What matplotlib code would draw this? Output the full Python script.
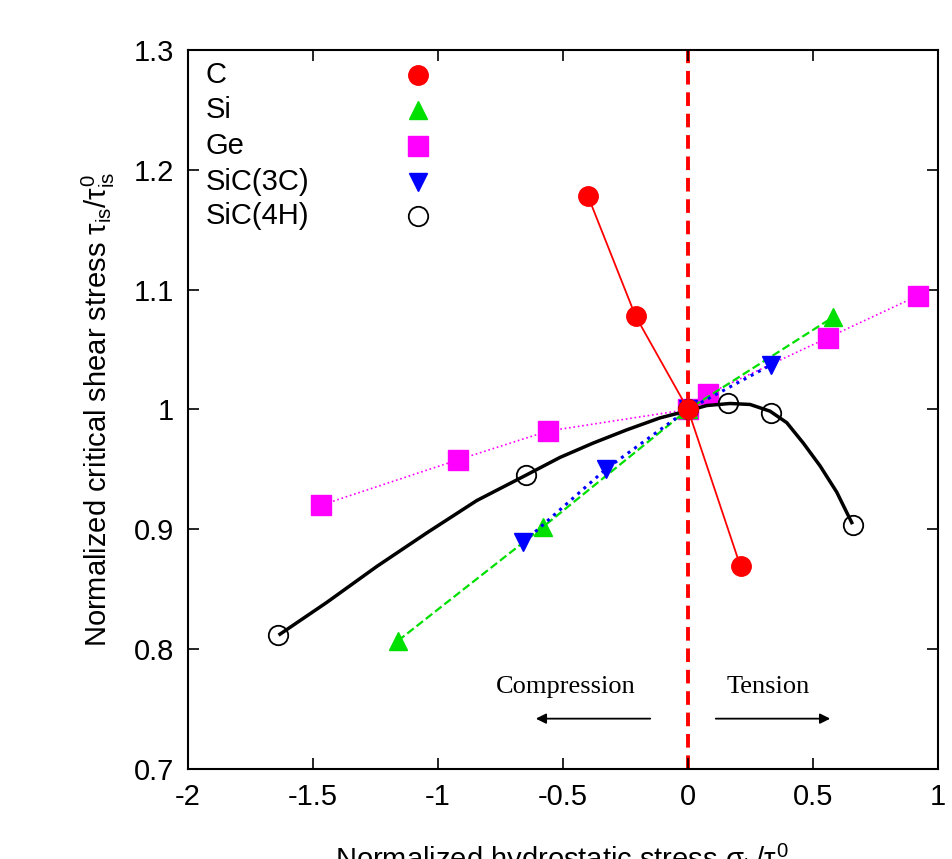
import numpy as np
import matplotlib
matplotlib.use('Agg')
import matplotlib.pyplot as plt

plt.rcParams['font.family'] = ['Liberation Sans', 'DejaVu Sans']
plt.rcParams['mathtext.fontset'] = 'custom'
plt.rcParams['mathtext.rm'] = 'Liberation Sans'
plt.rcParams['mathtext.it'] = 'Liberation Sans'

# ── 数据 ────────────────────────────────────
c_x = [-0.40, -0.21, 0.0, 0.21]
c_y = [1.178, 1.078, 1.0, 0.869]

si_x = [-1.16, -0.58, 0.0, 0.58]
si_y = [0.807, 0.902, 1.0, 1.077]

ge_x = [-1.47, -0.92, -0.56, 0.0, 0.08, 0.56, 0.92]
ge_y = [0.920, 0.958, 0.982, 1.0, 1.013, 1.060, 1.095]

sic3c_x = [-0.66, -0.33, 0.0, 0.33]
sic3c_y = [0.889, 0.950, 1.0, 1.037]

sic4h_x = [-1.64, -0.65, 0.0, 0.16, 0.33, 0.66]
sic4h_y = [0.812, 0.945, 1.0, 1.005, 0.997, 0.904]

# SiC(4H) 拟合曲线（沿曲线读取）
fit_x = [-1.632, -1.445, -1.245, -1.045, -0.845, -0.659, -0.512, -0.379,
         -0.245, -0.112, 0.0, 0.075, 0.168, 0.248, 0.328, 0.395, 0.461,
         0.528, 0.595, 0.655]
fit_y = [0.8125, 0.839, 0.869, 0.897, 0.924, 0.944, 0.960, 0.972,
         0.983, 0.993, 0.999, 1.0033, 1.005, 1.0042, 0.9986, 0.989, 0.972,
         0.953, 0.931, 0.9056]

labels = ['C', 'Si', 'Ge', 'SiC(3C)', 'SiC(4H)']

fig = plt.figure(figsize=(9.52, 8.59), dpi=100)
ax = fig.add_axes([0.1975, 0.1048, 0.7878, 0.837])

ax.axvline(0, color='red', linestyle=(0, (3.5, 2)), linewidth=2.8, zorder=1)

ax.plot(ge_x, ge_y, color='#ff00ff', linestyle=':', linewidth=1.2,
        marker='s', markersize=14, zorder=3)
ax.plot(fit_x, fit_y, color='black', linewidth=2.5, zorder=3,
        solid_joinstyle='round')
ax.plot(sic4h_x, sic4h_y, linestyle='none', marker='o', markersize=14,
        markerfacecolor='none', markeredgecolor='black', markeredgewidth=1.3, zorder=4)
ax.plot(si_x, si_y, color='#00e000', linestyle='--', linewidth=1.6,
        marker='^', markersize=13, zorder=4)
ax.plot(sic3c_x, sic3c_y, color='#0000ff', linestyle=':', linewidth=2.2,
        marker='v', markersize=13, zorder=4)
ax.plot(c_x, c_y, color='red', linestyle='-', linewidth=1.3,
        marker='o', markersize=14, zorder=5)

# ── 图例（文字左对齐，标记右侧） ──
styles = [
    dict(marker='o', color='red', markersize=14),
    dict(marker='^', color='#00e000', markersize=13),
    dict(marker='s', color='#ff00ff', markersize=14),
    dict(marker='v', color='#0000ff', markersize=13),
    dict(marker='o', markerfacecolor='none', markeredgecolor='black',
         markeredgewidth=1.3, markersize=14),
]
row_y = [0.965, 0.917, 0.866, 0.817, 0.769]
for lab, st, yy in zip(labels, styles, row_y):
    ax.text(0.023, yy, lab, transform=ax.transAxes, fontsize=21,
            va='center', ha='left')
    ax.plot([0.307], [yy], transform=ax.transAxes, linestyle='none',
            clip_on=False, **st)

# ── 压缩 / 拉伸 注释 ──
ax.text(-0.49, 0.768, 'Compression', family='Liberation Serif', fontsize=19,
        ha='center', va='center')
ax.text(0.32, 0.768, 'Tension', family='Liberation Serif', fontsize=19,
        ha='center', va='center')
ax.annotate('', xy=(-0.62, 0.742), xytext=(-0.14, 0.742),
            arrowprops=dict(arrowstyle='-|>', color='black', lw=1.3,
                            mutation_scale=15))
ax.annotate('', xy=(0.58, 0.742), xytext=(0.10, 0.742),
            arrowprops=dict(arrowstyle='-|>', color='black', lw=1.3,
                            mutation_scale=15))

ax.set_xlim(-2, 1)
ax.set_ylim(0.7, 1.3)
ax.set_xticks([-2, -1.5, -1, -0.5, 0, 0.5, 1])
ax.set_xticklabels(['-2', '-1.5', '-1', '-0.5', '0', '0.5', '1'])
ax.set_yticks([0.7, 0.8, 0.9, 1.0, 1.1, 1.2, 1.3])
ax.set_yticklabels(['0.7', '0.8', '0.9', '1', '1.1', '1.2', '1.3'])
ax.tick_params(direction='in', length=8, width=1.2, labelsize=21,
               top=True, right=True, pad=10)
for sp in ax.spines.values():
    sp.set_linewidth(1.5)

ax.set_xlabel(r'Normalized hydrostatic stress $\sigma_h/\tau_{is}^0$', fontsize=21,
              labelpad=22)
ax.set_ylabel(r'Normalized critical shear stress $\tau_{is}/\tau_{is}^0$', fontsize=21,
              labelpad=12)

fig.savefig('out.png', dpi=100)
